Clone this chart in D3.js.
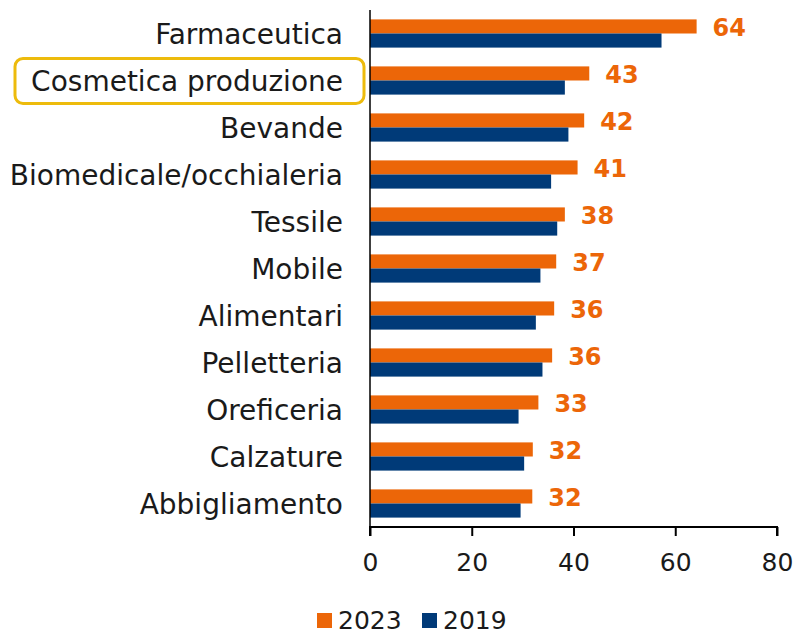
<!DOCTYPE html>
<html lang="it">
<head>
<meta charset="UTF-8">
<title>Settori 2023 vs 2019</title>
<script src="https://d3js.org/d3.v7.min.js"></script>
<style>
    body { margin: 0; background: #fff; }
    svg text { font-family: "DejaVu Sans", sans-serif; }
</style>
</head>
<body>
<div id="chart"></div>
<script>
    // dati
    var categories = ["Farmaceutica", "Cosmetica produzione", "Bevande", "Biomedicale/occhialeria",
        "Tessile", "Mobile", "Alimentari", "Pelletteria", "Oreficeria", "Calzature", "Abbigliamento"];
    var values2023 = [64.2, 43.1, 42.1, 40.8, 38.3, 36.6, 36.2, 35.8, 33.1, 32.0, 31.9];
    var values2019 = [57.3, 38.3, 39.0, 35.6, 36.8, 33.5, 32.6, 33.9, 29.2, 30.3, 29.6];
    var labels2023 = ["64", "43", "42", "41", "38", "37", "36", "36", "33", "32", "32"];
    var xTicks = [0, 20, 40, 60, 80];
    var seriesNames = ["2023", "2019"];
    var highlighted = "Cosmetica produzione";

    var orange = "#EC6608",
        blue = "#003A78";

    var width = 798, height = 631;
    var mLeft = 370, mRight = 777, mTop = 10, mBottom = 527;

    var svg = d3.select("#chart").append("svg")
        .attr("width", width)
        .attr("height", height);

    var x = d3.scaleLinear().domain([0, 80]).range([mLeft, mRight]);
    var y = d3.scaleBand().domain(categories).range([mTop, mBottom]).paddingInner(0.4).paddingOuter(0.2);
    var bh = y.bandwidth() / 2;

    var rows = categories.map(function (c, i) {
        return { name: c, v23: values2023[i], v19: values2019[i], lab: labels2023[i] };
    });

    // barre 2023
    svg.selectAll("rect.b23").data(rows).enter().append("rect")
        .attr("class", "b23")
        .attr("x", x(0))
        .attr("y", function (d) { return y(d.name); })
        .attr("width", function (d) { return x(d.v23) - x(0); })
        .attr("height", bh)
        .attr("fill", orange);

    // barre 2019
    svg.selectAll("rect.b19").data(rows).enter().append("rect")
        .attr("class", "b19")
        .attr("x", x(0))
        .attr("y", function (d) { return y(d.name) + bh; })
        .attr("width", function (d) { return x(d.v19) - x(0); })
        .attr("height", bh)
        .attr("fill", blue);

    // etichette valori
    svg.selectAll("text.val").data(rows).enter().append("text")
        .attr("class", "val")
        .attr("x", function (d) { return x(d.v23) + 16; })
        .attr("y", function (d) { return y(d.name) + bh / 2 + 1; })
        .attr("dy", "0.36em")
        .attr("fill", orange)
        .style("font-size", "24px")
        .style("font-weight", "bold")
        .text(function (d) { return d.lab; });

    // categorie
    svg.selectAll("text.cat").data(rows).enter().append("text")
        .attr("class", "cat")
        .attr("x", mLeft - 27)
        .attr("y", function (d) { return y(d.name) + y.bandwidth() / 2; })
        .attr("dy", "0.36em")
        .attr("text-anchor", "end")
        .attr("fill", "#1a1a1a")
        .style("font-size", "28px")
        .text(function (d) { return d.name; });

    // riquadro evidenziato
    var hy = y(highlighted) + y.bandwidth() / 2;
    svg.append("rect")
        .attr("x", 15)
        .attr("y", hy - 22)
        .attr("width", 349)
        .attr("height", 45)
        .attr("rx", 8)
        .attr("fill", "none")
        .attr("stroke", "#EDBB0C")
        .attr("stroke-width", 3);

    // asse verticale
    svg.append("line")
        .attr("x1", x(0)).attr("x2", x(0))
        .attr("y1", mTop).attr("y2", mBottom)
        .attr("stroke", "#000").attr("stroke-width", 1.5);

    // asse x
    var xAxis = svg.append("g")
        .attr("transform", "translate(0," + mBottom + ")")
        .call(d3.axisBottom(x).tickValues(xTicks).tickSize(9).tickPadding(17));
    xAxis.select(".domain").attr("stroke", "#000").attr("stroke-width", 2)
        .attr("d", "M" + x(0) + ",9V0H" + x(80) + "V9");
    xAxis.selectAll(".tick line").attr("stroke", "#000").attr("stroke-width", 2);
    xAxis.selectAll(".tick text")
        .attr("fill", "#1a1a1a")
        .style("font-family", "'DejaVu Sans', sans-serif")
        .style("font-size", "25px");

    // legenda
    var legend = svg.append("g").attr("transform", "translate(317,620)");
    var legX = [0, 105];
    var legColors = [orange, blue];
    seriesNames.forEach(function (s, i) {
        legend.append("rect")
            .attr("x", legX[i]).attr("y", -7)
            .attr("width", 15).attr("height", 15)
            .attr("fill", legColors[i]);
        legend.append("text")
            .attr("x", legX[i] + 21).attr("y", 0)
            .attr("dy", "0.36em")
            .attr("fill", "#1a1a1a")
            .style("font-size", "25px")
            .text(s);
    });
</script>
</body>
</html>
